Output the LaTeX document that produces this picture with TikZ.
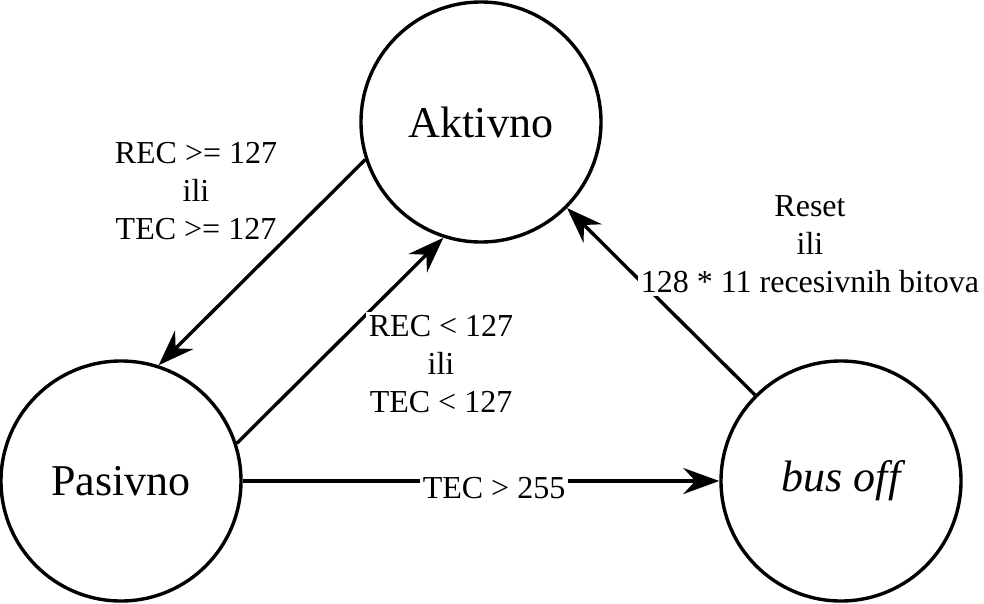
\documentclass[tikz,border=0pt]{standalone}
\usepackage{fontspec}
\setmainfont{Liberation Serif}
\usetikzlibrary{arrows.meta}

\begin{document}
\begin{tikzpicture}[x=1pt,y=-1pt,line width=3.4pt,
  state/.style={draw,circle,minimum size=240pt,inner sep=0pt,font=\fontsize{44}{50}\selectfont},
  lbl/.style={fill=white,align=center,inner sep=3pt,font=\fontsize{32}{38}\selectfont},
  >={Stealth[length=36pt,width=26pt,inset=12pt]}]
\useasboundingbox (0,0) rectangle (984,604);

\node[state] (akt) at (481,122) {Aktivno};
\node[state] (pas) at (121,481) {Pasivno};
\node[state] (off) at (841,481) {\itshape bus off};

\draw[->] (akt.198) to (pas.72);
\draw[->] (pas.18) to (akt.252);
\draw[->] (pas.east) to (off.west);
\draw[->] (off.135) to (akt.315);

\node[lbl] (l1) at (196,191) {REC >= 127\\ili\\TEC >= 127};
\node[lbl] (l2) at (441,364) {REC < 127\\ili\\TEC < 127};
\node[lbl] (l3) at (494,488) {TEC > 255};
\node[lbl] (l4) at (810,244) {Reset\\ili\\128 * 11 recesivnih bitova};
\end{tikzpicture}
\end{document}
